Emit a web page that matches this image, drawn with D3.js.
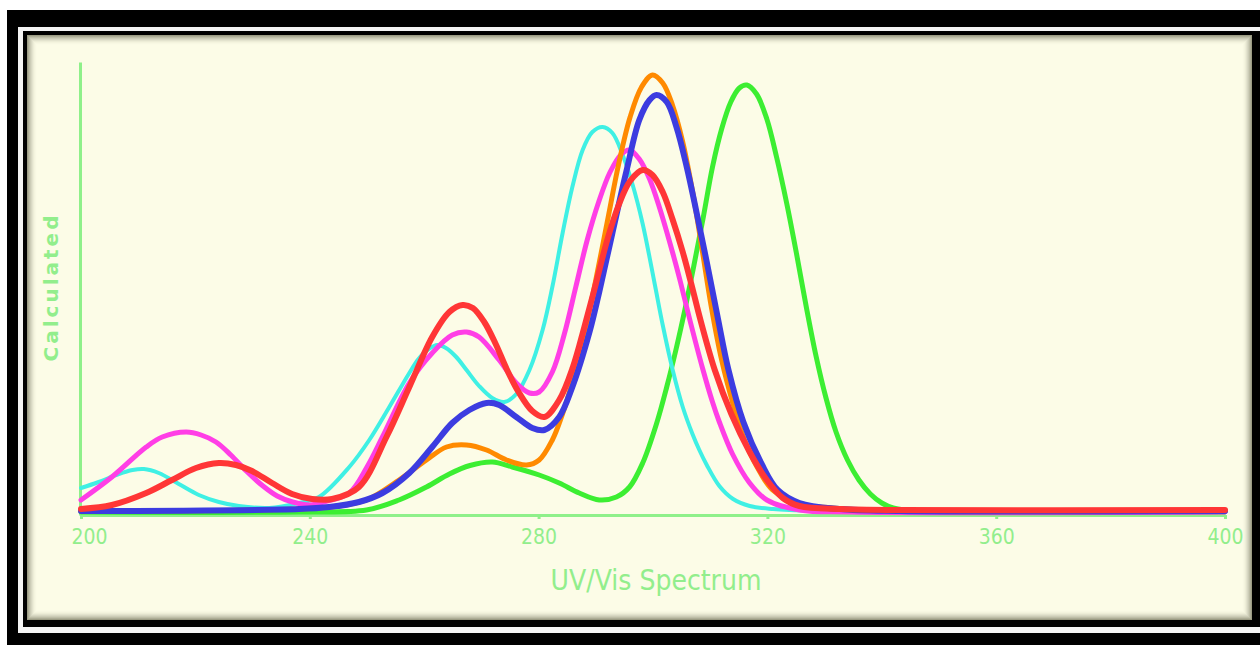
<!DOCTYPE html>
<html>
<head>
<meta charset="utf-8">
<script src="https://cdn.jsdelivr.net/npm/d3@7"></script>
<style>
  body { margin: 0; background: #fff; }
  svg { display: block; }
</style>
</head>
<body>
<svg id="svg" width="1260" height="645"></svg>
<script>
// [wavelength nm, calculated intensity]
const cyan = [[200,24],[203.1,30],[206.6,38],[209,42],[211,43],[213.6,39],[217.1,28],[220.6,17],[224.1,10],[227.6,6],[232.9,4],[238.1,9],[241.6,15],[246.9,45],[250.4,72],[253.9,105],[257.4,139],[259,153],[260.8,163],[262.3,167],[263.8,164],[265.6,155],[267.4,142],[269.6,126],[271.9,114],[274.0,110],[276.1,118],[278.4,142],[280.7,182],[282.4,225],[284.2,279],[285.9,325],[287.7,362],[289.4,380],[291.2,385],[292.9,379],[294.7,357],[296.4,328],[298.2,288],[300.3,228],[301.7,187],[303.4,143],[305.2,105],[306.9,78],[308.1,62],[309.4,47],[311.6,26],[314,13],[316.9,6],[321,3],[330,1],[340,0],[400,0]]
const magenta = [[200,12],[205.4,35],[211.4,65],[214.2,75],[218.4,80],[221,77],[223.6,70],[226.2,57],[228.9,41],[231.6,27],[234.3,16],[237,10],[240,7],[242.5,10],[246.9,19],[250,45],[252.7,75],[257.4,129],[261.4,159],[264.9,177],[267.4,180],[269.6,175],[273.1,152],[276.1,129],[278.4,119],[280.1,120],[282.4,140],[284.5,178],[286.5,225],[288.5,272],[290.5,310],[292.5,340],[294.5,358],[295.9,362],[297.6,353],[299.4,333],[301.1,305],[303.4,260],[304.8,230],[306.4,193],[308.7,143],[310.4,110],[311.6,90],[313.9,58],[316.9,29],[319.9,12],[325.6,2],[334.4,0],[400,0]]
const red = [[200,3],[205.4,7],[211.4,19],[215.9,32],[220.1,44],[224.1,49],[227.1,47],[229.9,41],[233.4,29],[236.9,18],[240.4,13],[243.9,13],[248.6,25],[253.4,75],[257.4,125],[261.4,175],[264.4,200],[266.7,207],[268.5,204],[270.5,190],[272.5,168],[274.5,142],[276.5,120],[278.9,101],[281.0,95],[283.6,112],[286,145],[288,185],[290,228],[292,272],[294,307],[296,331],[298.2,342],[299.9,337],[301.7,320],[303.4,293],[305.2,260],[306.7,228],[308.3,192],[310.8,142],[313.7,98],[316.9,60],[319.9,32],[322.7,14],[325.6,6],[333,3],[343.1,2],[400,2]]
const orange = [[200,1],[238.1,3],[245.1,6],[249.9,12],[255.6,32],[260.4,52],[263.9,65],[267.4,67],[270.9,62],[274.4,52],[277.9,47],[280.1,52],[282.4,72],[284,95],[286,132],[288,178],[290,232],[292,290],[294,348],[296,395],[298,425],[299.9,437],[301.7,429],[303.4,407],[305.2,370],[307,318],[308.6,262],[310.2,205],[312,152],[314,108],[316,72],[318.1,46],[320.9,22],[325.6,8],[331.4,4],[343.1,1],[400,1]]
const blue = [[200,1],[238.1,3],[243.4,5],[248.6,10],[252.7,19],[257.4,39],[261.4,65],[264.9,89],[267.9,102],[270.9,109],[273.1,107],[276.1,95],[278.9,84],[281.0,82],[283.6,95],[285.9,125],[288.9,180],[290.6,220],[292.9,279],[295.4,342],[297.6,392],[299.4,412],[300.6,417],[302.4,410],[304.1,385],[305.9,345],[307.6,300],[309.4,250],[311.3,195],[313.2,142],[315.8,90],[319.0,48],[321.8,22],[325.6,9],[332.6,3],[343.1,1],[400,1]]
const green = [[200,0],[238.1,0],[249.9,2],[255.6,12],[260.4,25],[264.4,38],[268,46.5],[271.9,50],[275.4,45],[280.1,37],[283.6,29],[287.1,19],[290.6,12],[293.6,15],[295.9,25],[298.2,49],[300.6,88],[302.4,125],[304,162],[305.6,203],[307.2,248],[308.8,295],[310.4,345],[312,383],[313.6,410],[315.1,424],[316.4,427],[318.1,418],[319.9,393],[321.6,355],[323.4,308],[325.1,258],[326.8,205],[328.5,156],[330.2,115],[332,80],[334,52],[336,32],[338,18],[340,9],[342,4],[346,1],[350,0],[400,0]]

const xTicks = [200, 240, 280, 320, 360, 400]
const xLabel = 'UV/Vis Spectrum'
const yLabel = 'Calculated'

// drawing order: first is underneath
const series = [
  { values: green, color: '#3cee32', width: 5 },
  { values: cyan, color: '#3ff0e4', width: 4 },
  { values: magenta, color: '#ff3ee6', width: 5 },
  { values: orange, color: '#ff8a00', width: 5 },
  { values: blue, color: '#3c3ce0', width: 6 },
  { values: red, color: '#ff3636', width: 6 }
]

const axisColor = '#8ff08a'
const labelColor = '#92ee8c'

const svg = d3.select('#svg')

// picture frame
svg.append('rect').attr('x', 7).attr('y', 10).attr('width', 1260).attr('height', 640).attr('fill', '#000')
svg.append('rect').attr('x', 18).attr('y', 27).attr('width', 1250).attr('height', 606).attr('fill', '#f4f4f4')
svg.append('rect').attr('x', 23).attr('y', 31).attr('width', 1240).attr('height', 596).attr('fill', '#000')
svg.append('rect').attr('x', 27).attr('y', 35).attr('width', 1225).attr('height', 585).attr('fill', '#fcfce7')

// inner shadow of the panel
for (let i = 0; i < 10; i++) {
  svg.append('rect')
    .attr('x', 27.5 + i).attr('y', 35.5 + i)
    .attr('width', 1224 - 2 * i).attr('height', 584 - 2 * i)
    .attr('fill', 'none')
    .attr('stroke', '#3a3a20')
    .attr('stroke-opacity', 0.5 * Math.pow(1 - i / 10, 2))
}

const x = d3.scaleLinear().domain([200, 400]).range([81, 1225])
const y = d3.scaleLinear().domain([-3, 450]).range([515, 62])

const line = d3.line()
  .x(d => x(d[0]))
  .y(d => y(d[1]))
  .curve(d3.curveCatmullRom.alpha(0.5))

// axes
const bottomAxis = d3.axisBottom(x).tickValues(xTicks).tickSize(4).tickSizeOuter(0).tickPadding(10)
const gx = svg.append('g').attr('transform', 'translate(0, 515)').call(bottomAxis)
gx.select('.domain').attr('stroke', axisColor).attr('stroke-width', 3)
gx.selectAll('.tick line').attr('stroke', axisColor).attr('stroke-width', 3)
gx.selectAll('.tick text')
  .attr('fill', labelColor)
  .attr('dx', (d, i) => i === 0 ? 8 : 0) // first label sits inside the axis start
  .style('font-family', '"Liberation Sans Narrow", "DejaVu Sans Condensed", sans-serif')
  .style('font-size', '21px')

const leftAxis = d3.axisLeft(y).tickValues([]).tickSizeOuter(0)
const gy = svg.append('g').attr('transform', 'translate(80, 0)').call(leftAxis)
gy.select('.domain').attr('stroke', axisColor).attr('stroke-width', 3)

// spectra
svg.append('g')
  .selectAll('path')
  .data(series)
  .enter()
  .append('path')
  .attr('d', d => line(d.values))
  .attr('fill', 'none')
  .attr('stroke', d => d.color)
  .attr('stroke-width', d => d.width)
  .attr('stroke-linejoin', 'round')
  .attr('stroke-linecap', 'round')

// axis titles
svg.append('text')
  .attr('x', 656)
  .attr('y', 590)
  .attr('text-anchor', 'middle')
  .attr('fill', labelColor)
  .style('font-family', '"Liberation Sans Narrow", "DejaVu Sans Condensed", sans-serif')
  .style('font-size', '28px')
  .text(xLabel)

svg.append('text')
  .attr('transform', 'translate(58, 287) rotate(-90)')
  .attr('text-anchor', 'middle')
  .attr('fill', labelColor)
  .style('font-family', '"DejaVu Sans", sans-serif')
  .style('font-weight', 'bold')
  .style('font-size', '20px')
  .style('letter-spacing', '3px')
  .text(yLabel)
</script>
</body>
</html>
